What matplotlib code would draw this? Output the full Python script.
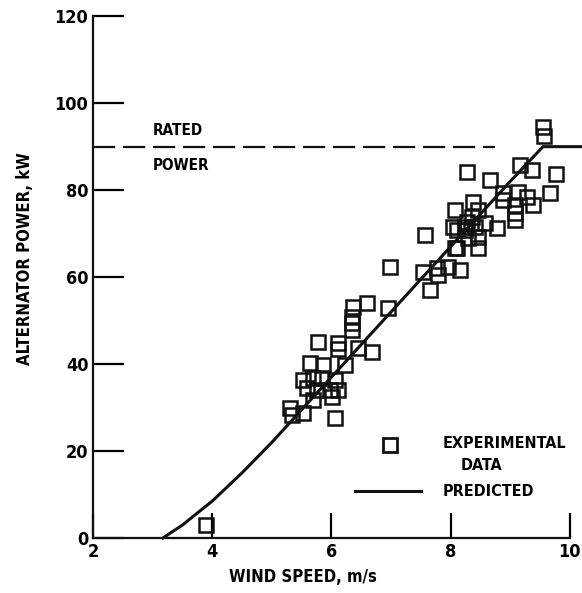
import matplotlib
matplotlib.use("Agg")
import matplotlib.pyplot as plt

# predicted power curve (wind speed m/s, power kW)
pred_speed = [3.17, 3.5, 4.0, 4.5, 5.0, 5.5, 6.0, 6.5, 7.0, 7.5, 8.0, 8.5, 9.0, 9.55, 10.2]
pred_power = [0, 3, 8.5, 15, 22, 29.5, 37, 44.5, 52, 59.5, 67, 74.5, 82, 90, 90]

# experimental data points
exp_speed = [
    3.90,
    5.30, 5.34, 5.52, 6.06, 5.69, 6.01, 5.59, 5.76, 5.98, 6.11,
    5.52, 5.69, 5.84, 6.06, 5.64, 5.86, 6.23, 5.78, 6.11, 6.11,
    6.45, 6.68, 6.35, 6.35, 6.35, 6.36, 6.60, 6.95,
    6.98, 7.54, 7.77, 7.79, 7.96, 8.16, 7.65, 7.57,
    8.07, 8.04, 8.24, 8.41, 8.11, 8.24, 8.46, 8.29, 8.11, 8.46,
    8.07, 8.27, 8.36, 8.58, 8.78, 8.38, 8.46, 8.88, 9.08, 9.08, 9.08,
    8.88, 9.13, 9.28, 9.38, 9.67, 8.27, 8.66, 9.16, 9.37, 9.77,
    9.55, 9.57,
]
exp_power = [
    3,
    29.9, 28.3, 28.7, 27.6, 31.7, 32.4, 34.5, 34.0, 34.0, 34.0,
    36.3, 36.8, 36.8, 36.3, 40.2, 39.8, 39.8, 45.0, 44.8, 43.4,
    43.7, 42.8, 47.8, 49.4, 50.8, 53.1, 54.0, 52.9,
    62.3, 61.1, 62.1, 60.5, 62.3, 61.6, 57.0, 69.7,
    66.7, 71.5, 71.5, 71.5, 70.8, 70.8, 69.2, 69.0, 66.7, 66.7,
    75.4, 72.6, 73.8, 72.4, 71.3, 77.2, 75.4, 77.7, 76.6, 74.7, 73.1,
    79.3, 79.5, 78.4, 76.6, 79.3, 84.1, 82.3, 85.8, 84.6, 83.6,
    94.5, 92.5,
]

rated_power = 90
xticks = [2, 4, 6, 8, 10]
yticks = [0, 20, 40, 60, 80, 100, 120]

plt.rcParams["font.family"] = ["DejaVu Sans"]
plt.rcParams["font.stretch"] = "condensed"
plt.rcParams["font.weight"] = "bold"

fig = plt.figure(figsize=(5.82, 5.93), dpi=100)
ax = fig.add_axes([0.16, 0.0927, 0.819, 0.88])

ax.plot([2, 8.75], [rated_power, rated_power], color="#111111", lw=1.6,
        dashes=(10, 3.5))
ax.plot(pred_speed, pred_power, color="#111111", lw=2.2, clip_on=False)
ax.plot(exp_speed, exp_power, linestyle="none", marker="s", ms=10,
        mfc="none", mec="#111111", mew=1.8, clip_on=False)

ax.text(3.0, 93.8, "RATED", fontsize=11, va="center")
ax.text(3.0, 85.7, "POWER", fontsize=11, va="center")

# legend drawn by hand
ax.plot([6.98], [21.4], linestyle="none", marker="s", ms=10, mfc="none",
        mec="#111111", mew=2.0)
ax.text(7.87, 21.8, "EXPERIMENTAL", fontsize=11.5, va="center")
ax.text(8.16, 16.6, "DATA", fontsize=11.5, va="center")
ax.plot([6.4, 7.5], [10.8, 10.8], color="#111111", lw=2.2)
ax.text(7.87, 10.8, "PREDICTED", fontsize=11.5, va="center")

ax.set_xlim(2, 10)
ax.set_ylim(0, 120)
ax.set_xticks(xticks)
ax.set_yticks(yticks)
ax.tick_params(direction="in", length=18, width=1.6, labelsize=13)
ax.tick_params(axis="y", length=22)
ax.spines["top"].set_visible(False)
ax.spines["right"].set_visible(False)
for s in ("left", "bottom"):
    ax.spines[s].set_linewidth(1.6)
    ax.spines[s].set_color("#111111")

ax.set_xlabel("WIND SPEED, m/s", fontsize=12, fontweight="bold")
ax.set_ylabel("ALTERNATOR POWER, kW", fontsize=12, fontweight="bold")
ax.xaxis.set_label_coords(0.44, -0.058)
ax.yaxis.set_label_coords(-0.125, 0.536)

fig.savefig("out.png", dpi=100)
